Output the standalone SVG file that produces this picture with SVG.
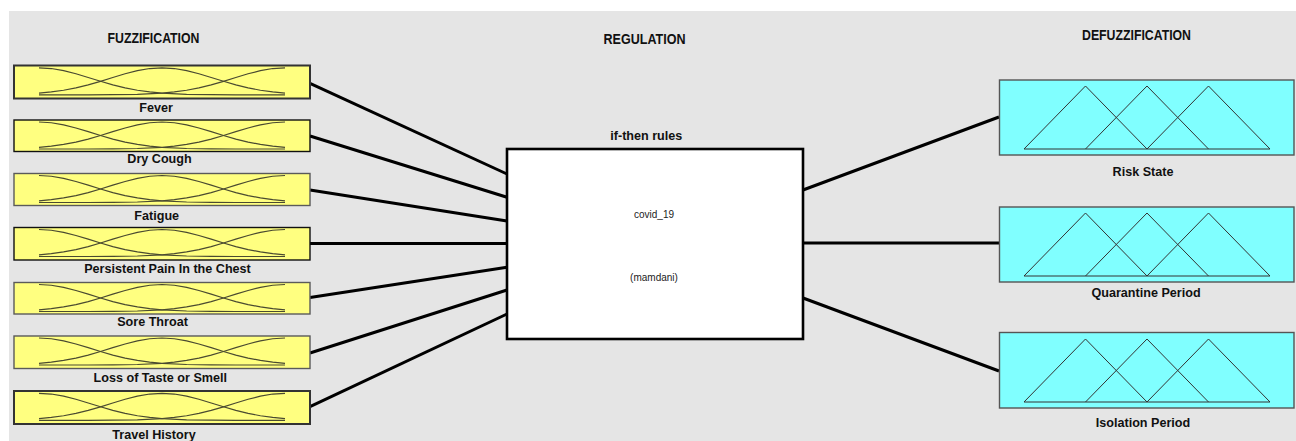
<svg xmlns="http://www.w3.org/2000/svg" xmlns:xlink="http://www.w3.org/1999/xlink" width="1296" height="441" viewBox="0 0 1296 441">
  <style>
    .bg { fill: #e5e5e5; }
    .inbox { fill: #ffff80; stroke: #5a5a5a; stroke-width: 1.4; }
    .inbox.sel { stroke: #333333; stroke-width: 2; }
    .outbox { fill: #80ffff; stroke: #555555; stroke-width: 1.4; }
    .rules { fill: #ffffff; stroke: #000000; stroke-width: 2.6; }
    .mf { fill: none; stroke: #4a4a30; stroke-width: 1.2; stroke-linejoin: round; }
    .tri { fill: none; stroke: #333333; stroke-width: 1; stroke-linejoin: miter; }
    .wire { stroke: #000000; stroke-width: 3; fill: none; stroke-linecap: butt; }
    .head { font-family: "Liberation Sans", Arial, sans-serif; font-weight: bold; font-size: 14px; fill: #111111; text-anchor: middle; }
    .lbl { font-family: "Liberation Sans", Arial, sans-serif; font-weight: bold; font-size: 12.6px; fill: #111111; text-anchor: middle; }
    .small { font-family: "Liberation Sans", Arial, sans-serif; font-size: 10px; fill: #222222; text-anchor: middle; }
  </style>
  <defs>
    <!-- three gaussian membership curves, 246 wide and 27 tall -->
    <g id="gauss">
      <polyline class="mf" points="0,0 12.3,0.73 24.6,2.84 36.9,5.97 49.2,9.69 61.5,13.5 73.8,17.06 86.1,20.06 98.4,22.44 110.7,24.14 123,25.33 147.6,26.51 172.2,26.88 196.8,26.98 246,27"/>
      <polyline class="mf" points="0,25.33 12.3,24.14 24.6,22.44 36.9,20.06 49.2,17.06 61.5,13.5 73.8,9.69 86.1,5.97 98.4,2.84 110.7,0.73 123,0 135.3,0.73 147.6,2.84 159.9,5.97 172.2,9.69 184.5,13.5 196.8,17.06 209.1,20.06 221.4,22.44 233.7,24.14 246,25.33"/>
      <polyline class="mf" points="0,27 49.2,26.98 73.8,26.88 98.4,26.51 123,25.33 135.3,24.14 147.6,22.44 159.9,20.06 172.2,17.06 184.5,13.5 196.8,9.69 209.1,5.97 221.4,2.84 233.7,0.73 246,0"/>
    </g>
    <!-- three triangular membership functions, 246 wide and 63 tall -->
    <g id="tris">
      <polyline class="tri" points="0,63 61.5,0 123,63"/>
      <polyline class="tri" points="61.5,63 123,0 184.5,63"/>
      <polyline class="tri" points="123,63 184.5,0 246,63"/>
      <line class="tri" x1="0" y1="63" x2="246" y2="63"/>
    </g>
  </defs>

  <rect x="0" y="0" width="1296" height="441" fill="#ffffff"/>
  <rect class="bg" x="9" y="11" width="1287" height="430"/>

  <!-- section headings -->
  <g id="headings">
    <text class="head" x="153.5" y="42.5" textLength="92" lengthAdjust="spacingAndGlyphs">FUZZIFICATION</text>
    <text class="head" x="644.5" y="43.5" textLength="82" lengthAdjust="spacingAndGlyphs">REGULATION</text>
    <text class="head" x="1136.5" y="40" textLength="109" lengthAdjust="spacingAndGlyphs">DEFUZZIFICATION</text>
  </g>

  <!-- connectors -->
  <g id="connectors">
    <line class="wire" x1="310" y1="83.3" x2="507" y2="174"/>
    <line class="wire" x1="310" y1="136" x2="507" y2="197.3"/>
    <line class="wire" x1="310" y1="190" x2="507" y2="221"/>
    <line class="wire" x1="310" y1="243.5" x2="507" y2="243.5"/>
    <line class="wire" x1="310" y1="297.5" x2="507" y2="267.3"/>
    <line class="wire" x1="310" y1="353" x2="507" y2="290"/>
    <line class="wire" x1="310" y1="406.7" x2="507" y2="314"/>
    <line class="wire" x1="803" y1="190" x2="999" y2="117"/>
    <line class="wire" x1="803" y1="243" x2="999" y2="243"/>
    <line class="wire" x1="803" y1="298" x2="999" y2="371"/>
  </g>

  <!-- input variables -->
  <g id="in-fever">
    <rect class="inbox sel" x="14" y="65.5" width="296" height="33"/>
    <use xlink:href="#gauss" x="39" y="67.8"/>
    <text class="lbl" x="156" y="111.5">Fever</text>
  </g>
  <g id="in-dry-cough">
    <rect class="inbox" x="14" y="120" width="296" height="31.5" style="stroke:#111111"/>
    <use xlink:href="#gauss" x="39" y="122"/>
    <text class="lbl" x="159.5" y="163">Dry Cough</text>
  </g>
  <g id="in-fatigue">
    <rect class="inbox" x="14" y="173.5" width="296" height="32"/>
    <use xlink:href="#gauss" x="39" y="175.5"/>
    <text class="lbl" x="156.7" y="219.5">Fatigue</text>
  </g>
  <g id="in-chest-pain">
    <rect class="inbox" x="14" y="227.5" width="296" height="32.5" style="stroke:#111111"/>
    <use xlink:href="#gauss" x="39" y="229.5"/>
    <text class="lbl" x="167.5" y="273">Persistent Pain In the Chest</text>
  </g>
  <g id="in-sore-throat">
    <rect class="inbox" x="14" y="282.5" width="296" height="31.5"/>
    <use xlink:href="#gauss" x="39" y="284.5"/>
    <text class="lbl" x="152.5" y="325.5">Sore Throat</text>
  </g>
  <g id="in-taste-smell">
    <rect class="inbox" x="14" y="336" width="296" height="32.5"/>
    <use xlink:href="#gauss" x="39" y="338"/>
    <text class="lbl" x="160.3" y="381.5">Loss of Taste or Smell</text>
  </g>
  <g id="in-travel">
    <rect class="inbox sel" x="14" y="391" width="296" height="33"/>
    <use xlink:href="#gauss" x="39" y="393.3"/>
    <text class="lbl" x="154" y="439">Travel History</text>
  </g>

  <!-- rule base -->
  <g id="rule-base">
    <text class="lbl" x="646.3" y="139.5">if-then rules</text>
    <rect class="rules" x="507" y="149" width="296" height="190"/>
    <text class="small" x="654" y="217.5">covid_19</text>
    <text class="small" x="654" y="281">(mamdani)</text>
  </g>

  <!-- output variables -->
  <g id="out-risk">
    <rect class="outbox" x="999.5" y="80" width="294.5" height="75"/>
    <use xlink:href="#tris" x="1024" y="86"/>
    <text class="lbl" x="1143" y="175.5">Risk State</text>
  </g>
  <g id="out-quarantine">
    <rect class="outbox" x="999.5" y="207" width="294.5" height="75"/>
    <use xlink:href="#tris" x="1024" y="213"/>
    <text class="lbl" x="1146" y="297">Quarantine Period</text>
  </g>
  <g id="out-isolation">
    <rect class="outbox" x="999.5" y="332.5" width="294.5" height="75.5"/>
    <use xlink:href="#tris" x="1024" y="339"/>
    <text class="lbl" x="1143" y="427">Isolation Period</text>
  </g>
</svg>
